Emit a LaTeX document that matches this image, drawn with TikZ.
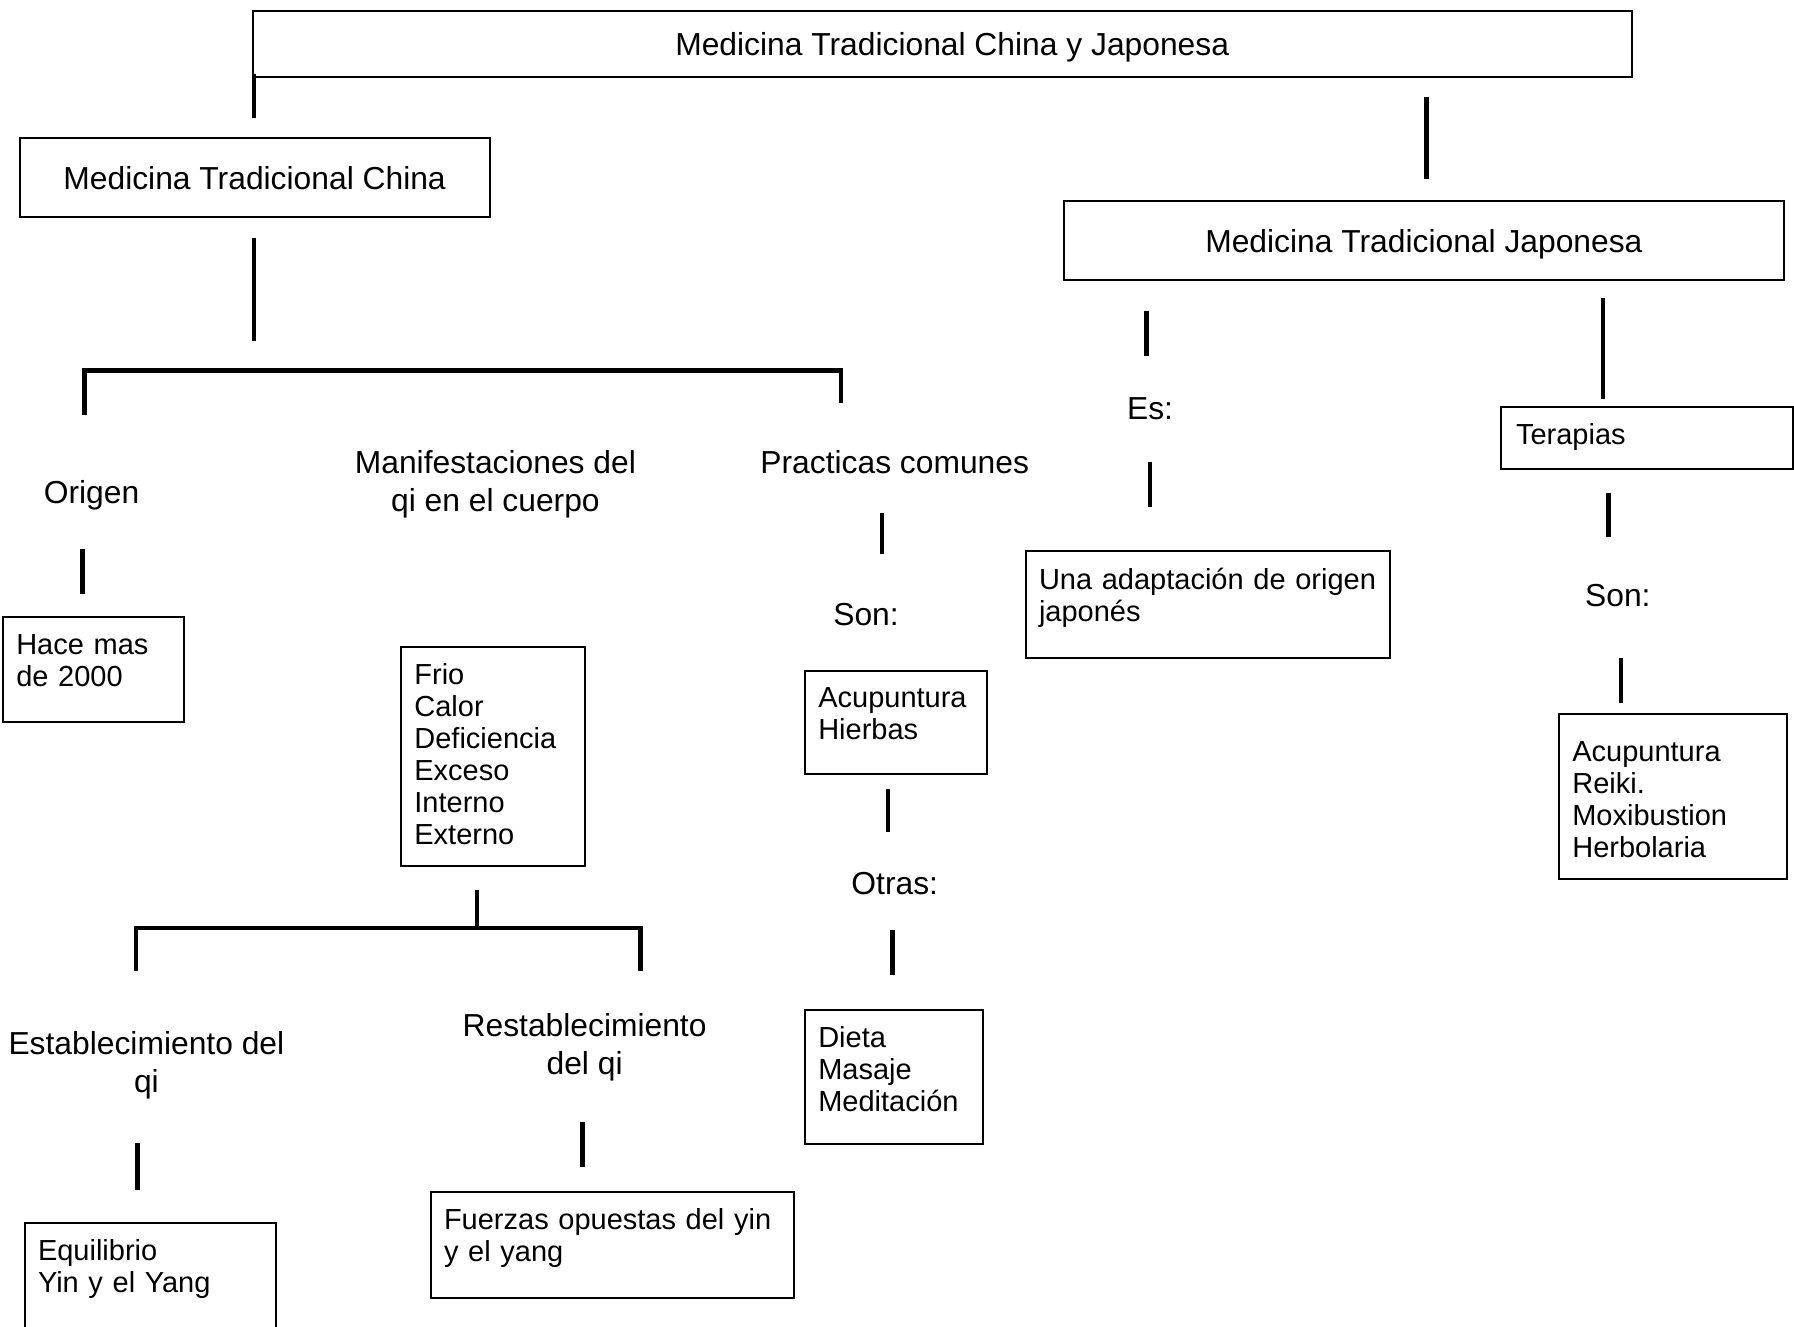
\documentclass[tikz,border=0pt]{standalone}
\usepackage{fontspec}
\setmainfont{Liberation Sans}
\newcommand{\bxf}{\fontsize{29}{32}\selectfont}
\newcommand{\lbf}{\fontsize{31.8}{38}\selectfont}
\begin{document}
\begin{tikzpicture}[x=1pt,y=-1pt,
  tbox/.style={draw, line width=2pt, anchor=north west, align=left, inner xsep=13pt, inner ysep=0pt, font=\bxf, text height=37.5pt},
  hbox/.style={draw, line width=2pt, font=\lbf, inner sep=0pt, text depth=0pt},
  lbl/.style={font=\lbf, align=center, anchor=base, inner sep=0pt},
  conn/.style={line width=4.5pt, line cap=butt, line join=miter}]
\useasboundingbox[fill=white] (0,0) rectangle (1794,1327);

% title boxes
\node[hbox, minimum width=1378.7pt, minimum height=65.3pt] (top) at (942.2,44.05) {\hspace*{20pt}Medicina Tradicional China y Japonesa};
\node[hbox, minimum width=470.2pt, minimum height=79pt] (china) at (254.6,177.9) {Medicina Tradicional China};
\node[hbox, minimum width=719.7pt, minimum height=78.9pt] (japo) at (1423.9,240.85) {Medicina Tradicional Japonesa};

% content boxes
\node[tbox, text width=154.7pt, text depth=67.8pt] (hace) at (2.3,615.5) {Hace mas\\de 2000};
\node[tbox, text width=157.1pt, text depth=181.1pt] (frio) at (400.4,646.4) {Frio\\Calor\\Deficiencia\\Exceso\\Interno\\Externo};
\node[tbox, text width=224.6pt, text depth=80.5pt] (equi) at (24,1222) {Equilibrio\\Yin y el Yang};
\node[tbox, text width=337pt, text depth=68.9pt] (fuer) at (430,1191) {\mbox{Fuerzas opuestas del yin}\\y el yang};
\node[tbox, text width=155.9pt, text height=36.5pt, text depth=66.5pt] (acup) at (804.3,670.4) {Acupuntura\\Hierbas};
\node[tbox, text width=151.3pt, text depth=96.5pt] (diet) at (804.3,1009) {Dieta\\Masaje\\Meditación};
\node[tbox, text width=338pt, text height=38.5pt, text depth=67.9pt] (una) at (1025,550.3) {\mbox{Una adaptación de origen}\\japonés};
\node[tbox, inner xsep=15pt, text width=262pt, text depth=24.5pt] (tera) at (1500,406) {Terapias};
\node[tbox, text width=201.7pt, text height=48pt, text depth=116.7pt] (acu2) at (1558.3,712.8) {Acupuntura\\Reiki.\\Moxibustion\\Herbolaria};

% labels (base anchor = baseline of the last line)
\node[lbl] (origen) at (91.5,503) {Origen};
\node[lbl] (mani) at (495.4,511.2) {Manifestaciones del\\qi en el cuerpo};
\node[lbl] (prac) at (894.7,473.4) {Practicas comunes};
\node[lbl] (son1) at (866,625.8) {Son:};
\node[lbl] (otras) at (894.7,894.6) {Otras:};
\node[lbl] (es) at (1150,419.8) {Es:};
\node[lbl] (son2) at (1617.8,606.4) {Son:};
\node[lbl] (esta) at (146.4,1092.6) {Establecimiento del\\qi};
\node[lbl] (rest) at (584.6,1074.2) {Restablecimiento\\del qi};

% connector end points
\coordinate (a1) at (254,74);      \coordinate (a2) at (254,117.8);
\coordinate (b1) at (1426.7,97.2); \coordinate (b2) at (1426.7,178.5);
\coordinate (c1) at (254,238);     \coordinate (c2) at (254,341);
\coordinate (k1) at (84.7,415);    \coordinate (k2) at (84.7,370.7);
\coordinate (k3) at (841,370.7);   \coordinate (k4) at (841,403);
\coordinate (d1) at (82.4,549);    \coordinate (d2) at (82.4,594);
\coordinate (e1) at (477,890);     \coordinate (e2) at (477,928);
\coordinate (m1) at (136,971.3);   \coordinate (m2) at (136,928);
\coordinate (m3) at (640.7,928);   \coordinate (m4) at (640.7,971.3);
\coordinate (f1) at (137.3,1143);  \coordinate (f2) at (137.3,1190);
\coordinate (g1) at (582.4,1122);  \coordinate (g2) at (582.4,1167);
\coordinate (h1) at (882,512.6);   \coordinate (h2) at (882,553.7);
\coordinate (i1) at (887.8,789.4); \coordinate (i2) at (887.8,831.8);
\coordinate (j1) at (892.4,930);   \coordinate (j2) at (892.4,974.8);
\coordinate (n1) at (1146.4,311.2);\coordinate (n2) at (1146.4,355.8);
\coordinate (p1) at (1150,462);    \coordinate (p2) at (1150,506.8);
\coordinate (q1) at (1603,297.5);  \coordinate (q2) at (1603,399.3);
\coordinate (r1) at (1608.6,493);  \coordinate (r2) at (1608.6,536.6);
\coordinate (s1) at (1621,657.9);  \coordinate (s2) at (1621,702.5);

% connectors
\draw[conn] (a1) -- (a2);
\draw[conn] (b1) -- (b2);
\draw[conn] (c1) -- (c2);
\draw[conn] (k1) -- (k2) -- (k3) -- (k4);
\draw[conn] (d1) -- (d2);
\draw[conn] (e1) -- (e2);
\draw[conn] (m1) -- (m2) -- (m3) -- (m4);
\draw[conn] (f1) -- (f2);
\draw[conn] (g1) -- (g2);
\draw[conn] (h1) -- (h2);
\draw[conn] (i1) -- (i2);
\draw[conn] (j1) -- (j2);
\draw[conn] (n1) -- (n2);
\draw[conn] (p1) -- (p2);
\draw[conn] (q1) -- (q2);
\draw[conn] (r1) -- (r2);
\draw[conn] (s1) -- (s2);
\end{tikzpicture}
\end{document}
